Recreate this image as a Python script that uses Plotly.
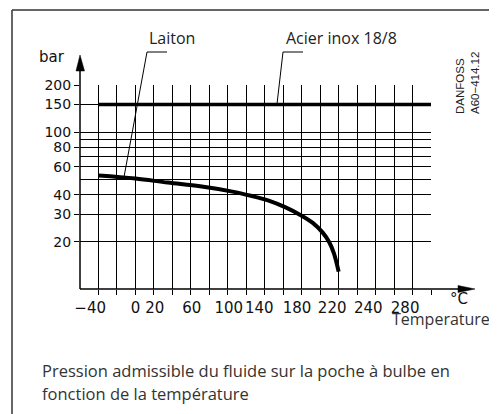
import plotly.graph_objects as go

# ---- data ----
laiton_temp = [-40, 0, 35, 70, 105, 125, 145, 162, 178, 192, 203, 210, 215, 220]
laiton_bar = [53, 50.7, 47.7, 45.2, 41.8, 39.3, 36.5, 33.3, 29.8, 26.4, 22.8, 19.8, 16.8, 12.9]
acier_temp = [-40, 320]
acier_bar = [150, 150]

x_grid_vals = list(range(-40, 321, 20))
x_label_vals = [-49, 0, 21, 61, 101, 134, 175, 213, 252, 292]
x_label_text = ["\u221240", "0", "20", "60", "100", "140", "180", "220", "240", "280"]
y_label_vals = [20, 30, 40, 60, 80, 100, 150, 200]
y_label_text = ["20", "30", "40", "60", "80", "100", "150", "200"]
y_minor_vals = [50, 70, 90]

# page places the figure 8px in from the top-left corner of the window
OFF = 8
W, H = 497 - OFF, 414 - OFF


def X(px):
    return (px - OFF) / W


def Y(py):
    return 1 - (py - OFF) / H


TICKFONT = dict(family="DejaVu Sans", size=15, color="#111")
YTICKFONT = dict(family="DejaVu Sans", size=14, color="#111")
LBLFONT = dict(family="Open Sans", size=16, color="#222")

fig = go.Figure()
fig.add_trace(go.Scatter(x=acier_temp, y=acier_bar, mode="lines",
                         line=dict(color="black", width=3.5),
                         hoverinfo="skip", showlegend=False))
fig.add_trace(go.Scatter(x=laiton_temp, y=laiton_bar, mode="lines",
                         line=dict(color="black", width=4, shape="spline", smoothing=1.0),
                         hoverinfo="skip", showlegend=False))
# helper trace for label axis
fig.add_trace(go.Scatter(x=[-60, 320], y=[10, 10], xaxis="x2", mode="lines",
                         line=dict(width=0, color="rgba(0,0,0,0)"),
                         hoverinfo="skip", showlegend=False))

xrange = [-60, 320]
fig.update_layout(
    width=W, height=H,
    margin=dict(l=0, r=0, t=0, b=0, autoexpand=False),
    paper_bgcolor="white", plot_bgcolor="white",
    showlegend=False,
    xaxis=dict(domain=[X(80), X(431)], range=xrange, tickmode="array",
               tickvals=x_grid_vals, showticklabels=False,
               ticks="outside", ticklen=5, tickcolor="black", tickwidth=1,
               showgrid=True, gridcolor="black", gridwidth=1, automargin=False,
               showline=False, zeroline=False, fixedrange=True),
    xaxis2=dict(domain=[X(80), X(431)], range=xrange, overlaying="x", anchor="y",
                side="bottom", tickmode="array", tickvals=x_label_vals,
                ticktext=x_label_text, tickfont=TICKFONT, tickangle=0,
                ticks="outside", ticklen=5, tickcolor="rgba(0,0,0,0)", automargin=False,
                showgrid=False, showline=False, zeroline=False),
    yaxis=dict(domain=[Y(289), Y(85)], type="log", range=[1, 2.30103],
               tickmode="array", tickvals=y_label_vals, ticktext=y_label_text,
               tickfont=YTICKFONT, ticks="outside", ticklen=5, tickcolor="black",
               showgrid=True, gridcolor="black", gridwidth=1, automargin=False,
               minor=dict(tickmode="array", tickvals=y_minor_vals, showgrid=True,
                          gridcolor="black", gridwidth=1, ticks=""),
               showline=False, zeroline=False),
)

shapes = []
# frame
shapes.append(dict(type="line", xref="paper", yref="paper", x0=X(12), y0=Y(10), x1=X(497), y1=Y(10),
                   line=dict(color="#333", width=1.5)))
shapes.append(dict(type="line", xref="paper", yref="paper", x0=X(12), y0=Y(10), x1=X(12), y1=Y(414),
                   line=dict(color="#333", width=1.5)))
# axes with arrows
shapes.append(dict(type="line", xref="paper", yref="paper", x0=X(80), y0=Y(289), x1=X(80), y1=Y(68),
                   line=dict(color="black", width=1.5)))
shapes.append(dict(type="line", xref="paper", yref="paper", x0=X(80), y0=Y(289), x1=X(460), y1=Y(289),
                   line=dict(color="black", width=1.5)))
shapes.append(dict(type="path", xref="paper", yref="paper",
                   path=f"M {X(76)} {Y(71)} L {X(84.5)} {Y(71)} L {X(80)} {Y(55)} Z",
                   fillcolor="black", line=dict(color="black", width=0.5)))
shapes.append(dict(type="path", xref="paper", yref="paper",
                   path=f"M {X(458)} {Y(285.5)} L {X(458)} {Y(292.5)} L {X(475)} {Y(289)} Z",
                   fillcolor="black", line=dict(color="black", width=0.5)))
# leader lines
shapes.append(dict(type="path", xref="paper", yref="paper",
                   path=f"M {X(167)} {Y(52)} L {X(147)} {Y(52)} L {X(124)} {Y(177)}",
                   line=dict(color="black", width=1)))
shapes.append(dict(type="path", xref="paper", yref="paper",
                   path=f"M {X(303)} {Y(52)} L {X(283)} {Y(52)} L {X(277)} {Y(104)}",
                   line=dict(color="black", width=1)))
fig.update_layout(shapes=shapes)

ann = []


def A(text, px, py, font, xanchor="center", **kw):
    ann.append(dict(text=text, x=X(px), y=Y(py), xref="paper", yref="paper",
                    showarrow=False, xanchor=xanchor, yanchor="middle", font=font, **kw))


A("bar", 52, 57, TICKFONT)
A("Laiton", 172, 38, LBLFONT)
A("Acier inox 18/8", 341, 38, LBLFONT)
A("°C", 459, 299, TICKFONT)
A("Temperature", 441, 319, dict(family="Open Sans", size=16, color="#333"))
A("DANFOSS<br>A60\u2212414.12", 468, 83, dict(family="Liberation Sans", size=11.5, color="#222"),
  textangle=-90, align="left")
A("Pression admissible du fluide sur la poche à bulbe en", 40, 370,
  dict(family="Open Sans", size=16.5, color="#333"), xanchor="left")
A("fonction de la température", 40, 393,
  dict(family="Open Sans", size=16.5, color="#333"), xanchor="left")
fig.update_layout(annotations=ann)

fig.write_html("out.html")
